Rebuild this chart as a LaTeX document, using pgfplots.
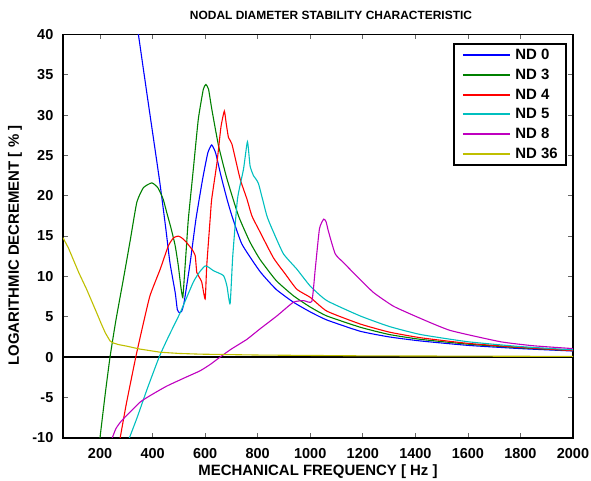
\documentclass[border=0pt]{standalone}
\usepackage{pgfplots}
\pgfplotsset{compat=1.18}
\usepackage{fontspec}
\setmainfont{Liberation Sans}
\definecolor{mblue}{rgb}{0,0,1}
\definecolor{mgreen}{rgb}{0,0.5,0}
\definecolor{mred}{rgb}{1,0,0}
\definecolor{mcyan}{rgb}{0,0.75,0.75}
\definecolor{mmag}{rgb}{0.75,0,0.75}
\definecolor{myel}{rgb}{0.75,0.75,0}
\begin{document}
\begin{tikzpicture}
\useasboundingbox (-63bp,-43.3bp) rectangle (528bp,437.7bp);
\begin{axis}[
  scale only axis,
  width=510bp, height=403.2bp,
  xmin=59, xmax=2000, ymin=-10, ymax=40,
  xtick={200,400,...,2000},
  ytick={-10,-5,...,40},
  scaled x ticks=false, scaled y ticks=false,
  /pgf/number format/1000 sep={},
  /pgf/number format/assume math mode=true,
  tick align=inside,
  major tick length=5bp,
  tick style={draw=black!60, line width=0.7bp},
  axis line style={line width=1.6bp, draw=black},
  ticklabel style={font=\bfseries\fontsize{14.5}{16}\selectfont, inner sep=0pt},
  xticklabel style={anchor=base, yshift=-20.3bp},
  yticklabel style={anchor=east, xshift=-9.5bp},
  title={NODAL DIAMETER STABILITY CHARACTERISTIC},
  title style={font=\bfseries\fontsize{12}{14}\selectfont, at={(axis description cs:0.5,1)}, anchor=base, yshift=9bp, xshift=13bp, inner sep=0pt},
  xlabel={MECHANICAL FREQUENCY [ Hz ]},
  xlabel style={font=\bfseries\fontsize{15}{17}\selectfont, at={(axis description cs:0.5,0)}, anchor=base, yshift=-37.3bp, inner sep=0pt},
  ylabel={LOGARITHMIC DECREMENT [ \% ]},
  ylabel style={font=\bfseries\fontsize{15}{17}\selectfont, at={(axis description cs:-0.0863,0.4767)}, anchor=base, rotate=0, inner sep=0pt},
  every axis plot/.append style={line width=1.1bp},
  legend style={at={(0.9876,0.978)}, anchor=north east, draw=black, line width=2bp, fill=white,
    font=\bfseries\fontsize{15}{17}\selectfont, text=black,
    nodes={inner sep=0pt},
    row sep=7.8bp, inner xsep=8bp, inner ysep=5bp},
  legend cell align=left,
  legend image code/.code={\draw[#1, line width=1.8bp] (0bp,0bp) -- (47bp,0bp); \path (52bp,0bp);},
]
\addplot[draw=black, line width=1.4bp, forget plot] coordinates {(59,0) (2000,0)};
% ND 0
\addplot[draw=mblue, smooth, tension=0.3] coordinates {
(340,41.4)(346,40)(380,32.3)(426,22.0)(450,16.0)(466,11.7)(486,8.0)(494,5.9)(502,5.5)(511,5.7)(520,6.8)(543,11.7)(565,17.1)(590,22)(610,25.3)(625,26.3)(640,25.3)(660,22.5)(683,19.6)(702,17.5)(740,14.0)(809,10.6)(870,8.4)(936,6.8)(1000,5.6)(1063,4.6)(1190,3.2)(1300,2.5)(1419,2.0)(1600,1.45)(1800,1.05)(2000,0.75)};
\addlegendentry{ND 0}
% ND 3
\addplot[draw=mgreen, smooth, tension=0.3] coordinates {
(198,-10.5)(220,-4.5)(238,0)(260,4.5)(289,9.7)(315,14.5)(340,19.2)(365,21.0)(397,21.6)(420,21.0)(440,19.6)(454,17.9)(470,16.0)(486,13.8)(498,11.3)(508,8.6)(515,7.4)(522,10.5)(529,13.8)(536,17.1)(555,23.3)(574,29.5)(593,33.2)(603,33.8)(613,33.2)(625,30.8)(651,26.2)(683,22.1)(727,17.5)(770,14.3)(809,12.1)(870,9.5)(936,7.6)(1000,6.2)(1063,5.1)(1190,3.7)(1300,2.8)(1419,2.2)(1600,1.6)(1800,1.15)(2000,0.8)};
\addlegendentry{ND 3}
% ND 4
\addplot[draw=mred, smooth, tension=0.3] coordinates {
(274,-10.5)(300,-5.8)(336,0)(360,3.5)(390,7.6)(429,10.9)(460,13.8)(480,14.8)(498,15.0)(510,14.8)(524,14.4)(549,13.4)(562,12.6)(568,10.5)(574,10.1)(587,9.3)(600,7.2)(606,11.3)(619,17.1)(625,19.6)(645,24.1)(660,28.5)(673,30.5)(680,29)(689,27.2)(702,26.4)(733,22.1)(759,19.6)(778,17.5)(809,15.5)(860,12.3)(905,10.3)(949,8.4)(1000,7.4)(1063,5.7)(1190,4.1)(1300,3.1)(1419,2.4)(1600,1.7)(1800,1.2)(2000,0.8)};
\addlegendentry{ND 4}
% ND 5
\addplot[draw=mcyan, smooth, tension=0.3] coordinates {
(306,-10.5)(340,-7.6)(380,-3.9)(425,0)(460,2.5)(505,5.5)(555,9.3)(580,10.6)(600,11.3)(615,11.1)(632,10.7)(670,10.1)(683,8.8)(695,6.6)(705,12.5)(723,19.6)(746,23.3)(761,26.7)(771,23.7)(784,22.5)(803,21.5)(835,17.5)(860,15.5)(898,12.8)(949,10.9)(1000,8.8)(1063,7.0)(1190,5.1)(1300,3.8)(1419,2.8)(1600,1.9)(1800,1.3)(2000,0.9)};
\addlegendentry{ND 5}
% ND 8
\addplot[draw=mmag, smooth, tension=0.3] coordinates {
(241,-10.5)(260,-8.9)(282,-7.9)(352,-5.6)(400,-4.6)(454,-3.6)(520,-2.6)(581,-1.7)(620,-0.9)(657,0)(700,1.0)(759,2.2)(809,3.5)(873,5.1)(936,6.8)(975,7.0)(1006,6.9)(1019,10.9)(1035,15.9)(1051,17.1)(1060,16.8)(1070,15.5)(1095,12.8)(1127,11.7)(1178,10.0)(1241,8.0)(1317,6.3)(1419,4.8)(1533,3.3)(1724,1.9)(1850,1.4)(2000,1.05)};
\addlegendentry{ND 8}
% ND 36
\addplot[draw=myel] coordinates {
(59,14.8)(80,13.5)(98,12.1)(120,10.4)(149,8.4)(170,6.8)(187,5.5)(205,4.1)(220,3.0)(238,2.0)(250,1.75)(270,1.55)(302,1.35)(350,1.0)(429,0.6)(500,0.45)(581,0.36)(800,0.25)(1200,0.15)(2000,0.08)};
\addlegendentry{ND 36}
\end{axis}
\end{tikzpicture}
\end{document}
